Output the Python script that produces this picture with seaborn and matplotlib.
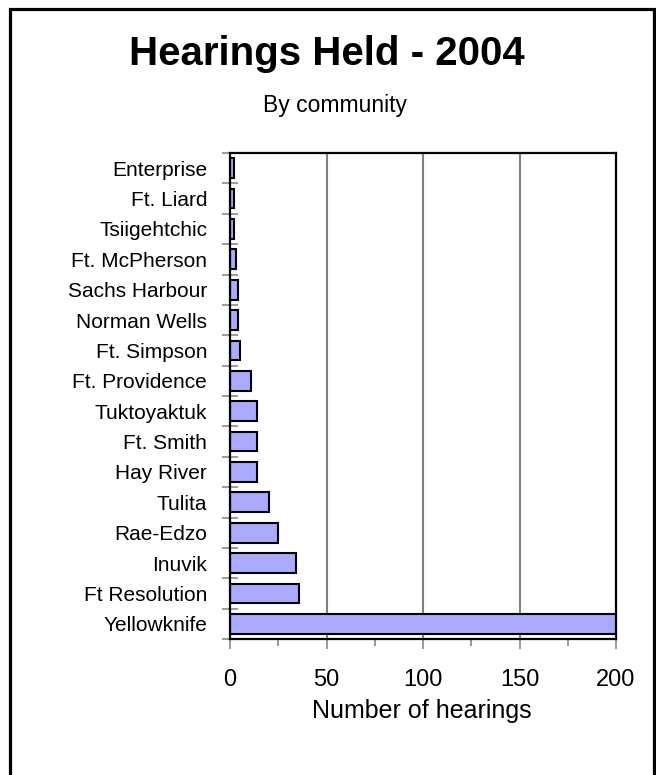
import matplotlib
matplotlib.use("Agg")
import matplotlib.pyplot as plt
import seaborn as sns
import pandas as pd
from matplotlib.patches import Rectangle
from matplotlib.ticker import MultipleLocator, FixedLocator

communities = ["Enterprise", "Ft. Liard", "Tsiigehtchic", "Ft. McPherson", "Sachs Harbour",
               "Norman Wells", "Ft. Simpson", "Ft. Providence", "Tuktoyaktuk", "Ft. Smith",
               "Hay River", "Tulita", "Rae-Edzo", "Inuvik", "Ft Resolution", "Yellowknife"]
hearings = [2, 2, 2, 3, 4, 4, 5, 11, 14, 14, 14, 20, 25, 34, 36, 201]
x_ticks = [0, 50, 100, 150, 200]

title = "Hearings Held - 2004"
subtitle = "By community"
x_label = "Number of hearings"

sns.set_theme(style="white")
plt.rcParams["font.family"] = ["Liberation Sans", "DejaVu Sans"]
plt.rcParams["text.color"] = "black"
plt.rcParams["xtick.labelcolor"] = "black"
plt.rcParams["ytick.labelcolor"] = "black"

df = pd.DataFrame({"community": communities, "hearings": hearings})

W, H = 656, 775
fig = plt.figure(figsize=(W / 100, H / 100), dpi=100)
ax = fig.add_axes([230 / W, 1 - 639 / H, (616 - 230) / W, (639 - 153) / H])

sns.barplot(data=df, y="community", x="hearings", orient="h", color="#AAAAFF",
            saturation=1, width=0.65, edgecolor="black", linewidth=1.5, ax=ax)

ax.set_xlim(0, 200)
ax.set_ylim(len(communities) - 0.5, -0.5)
ax.set_xticks(x_ticks)
ax.xaxis.set_minor_locator(MultipleLocator(25))
ax.yaxis.set_minor_locator(FixedLocator([i - 0.5 for i in range(len(communities) + 1)]))

ax.grid(False)
for v in x_ticks[1:-1]:
    ax.axvline(v, color="#808080", lw=1.5, zorder=0)

for s in ax.spines.values():
    s.set_visible(True)
    s.set_color("black")
    s.set_linewidth(1.6)

ax.tick_params(axis="x", which="major", direction="out", length=7.5, width=1.1,
               color="#808080", labelsize=17, pad=14, bottom=True, labelcolor="black")
ax.tick_params(axis="x", which="minor", direction="out", length=5, width=1.1,
               color="#808080", bottom=True)
ax.tick_params(axis="y", which="major", length=0, labelsize=15, pad=16.5, left=True,
               labelcolor="black")
ax.tick_params(axis="y", which="minor", direction="inout", length=12, width=1.1,
               color="#808080", left=True)
ax.set_ylabel("")
ax.set_xlabel("")

fig.text(422 / W, 1 - 718 / H, x_label, ha="center", va="baseline",
         fontsize=18, color="black")
fig.text(327 / W, 1 - 65 / H, title, ha="center", va="baseline",
         fontsize=29, fontweight="bold", color="black")
fig.text(335 / W, 1 - 112 / H, subtitle, ha="center", va="baseline",
         fontsize=16.5, color="black")

fig.patches.append(Rectangle((9.5 / W, -0.05), (653.5 - 9.5) / W, 1.05 - 9.5 / H,
                             transform=fig.transFigure, fill=False,
                             edgecolor="black", linewidth=2.3))

fig.savefig("out.png", dpi=100)
